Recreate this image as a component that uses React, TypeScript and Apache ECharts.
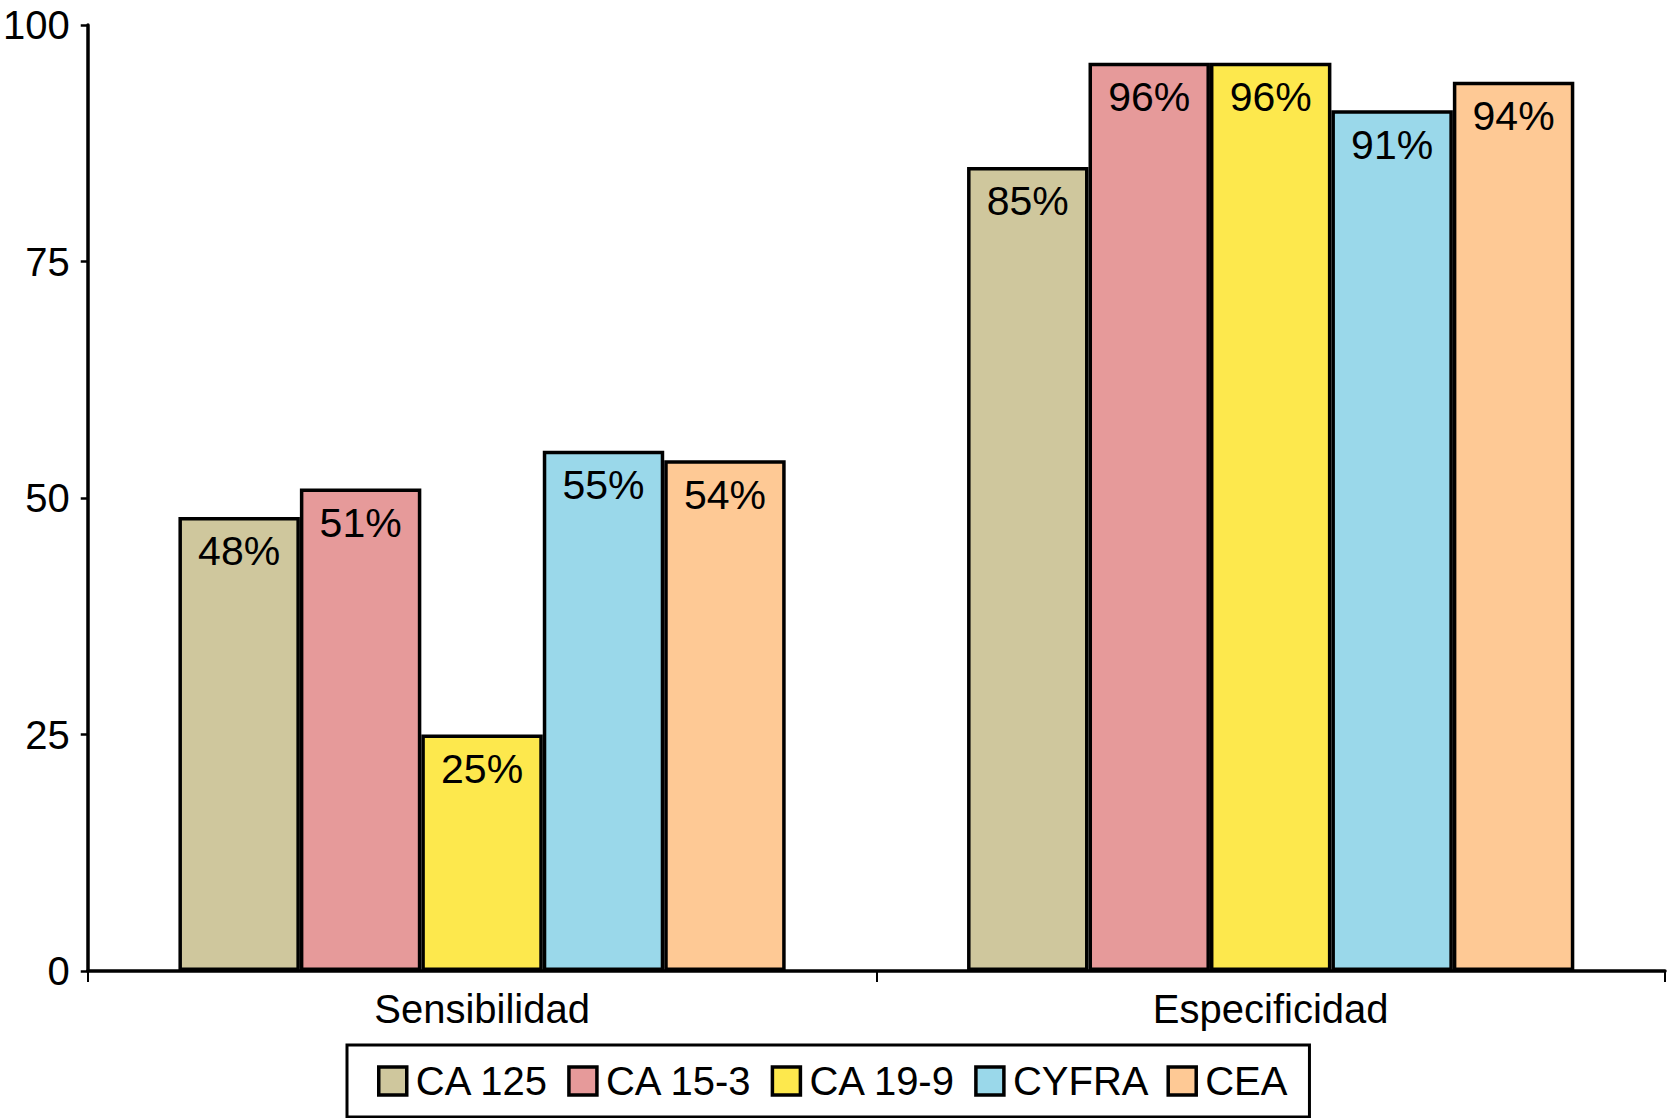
import { useEffect, useRef } from 'react';
import * as echarts from 'echarts';

const categories = ['Sensibilidad', 'Especificidad'];
const markers = ['CA 125', 'CA 15-3', 'CA 19-9', 'CYFRA', 'CEA'];
const colors = ['#CFC79D', '#E69A9A', '#FDE84D', '#9AD8EA', '#FEC995'];
const ca125 = [48, 85];
const ca153 = [51, 96];
const ca199 = [25, 96];
const cyfra = [55, 91];
const cea = [54, 94];
const yTicks = [0, 25, 50, 75, 100];

const font = "'Liberation Sans', Arial, Helvetica, sans-serif";

export default function App() {
  const chartRef = useRef(null);

  useEffect(() => {
    const chart = echarts.init(chartRef.current, null, { renderer: 'svg' });
    const values = [ca125, ca153, ca199, cyfra, cea];

    const option = {
      animation: false,
      textStyle: { fontFamily: font, color: '#000' },
      grid: { left: 87, right: 8, top: 25, bottom: 147 },
      legend: {
        data: markers,
        left: 347,
        top: 1045,
        orient: 'horizontal',
        icon: 'rect',
        itemWidth: 28,
        itemHeight: 28,
        itemGap: 18,
        padding: [16, 22, 16, 30],
        borderColor: '#000',
        borderWidth: 3,
        itemStyle: { borderColor: '#000', borderWidth: 3.5 },
        textStyle: {
          fontFamily: font,
          fontSize: 40,
          color: '#000',
          lineHeight: 40,
          padding: [0, 0, 0, 4],
        },
      },
      xAxis: {
        type: 'category',
        data: categories,
        axisLine: { lineStyle: { color: '#000', width: 3.5 } },
        axisTick: { show: true, length: 11, lineStyle: { color: '#000', width: 2 } },
        axisLabel: { fontFamily: font, fontSize: 40, color: '#000', margin: 18 },
      },
      yAxis: {
        type: 'value',
        min: yTicks[0],
        max: yTicks[yTicks.length - 1],
        interval: 25,
        axisLine: { show: true, lineStyle: { color: '#000', width: 3.5 } },
        axisTick: { show: true, length: 7, lineStyle: { color: '#000', width: 2.5 } },
        splitLine: { show: false },
        axisLabel: { fontFamily: font, fontSize: 40, color: '#000', margin: 18 },
      },
      series: markers.map((name, i) => ({
        name,
        type: 'bar',
        data: values[i],
        barGap: '0%',
        barCategoryGap: '23%',
        itemStyle: { color: colors[i], borderColor: '#000', borderWidth: 3.5 },
        label: {
          show: true,
          position: 'insideTop',
          distance: 14,
          formatter: '{c}%',
          fontFamily: font,
          fontSize: 41,
          color: '#000',
        },
      })),
    };

    chart.setOption(option);
    return () => {
      chart.dispose();
    };
  }, []);

  return (
    <div
      ref={chartRef}
      style={{ position: 'fixed', left: 0, top: 0, width: '1673px', height: '1118px', background: '#fff' }}
    />
  );
}
